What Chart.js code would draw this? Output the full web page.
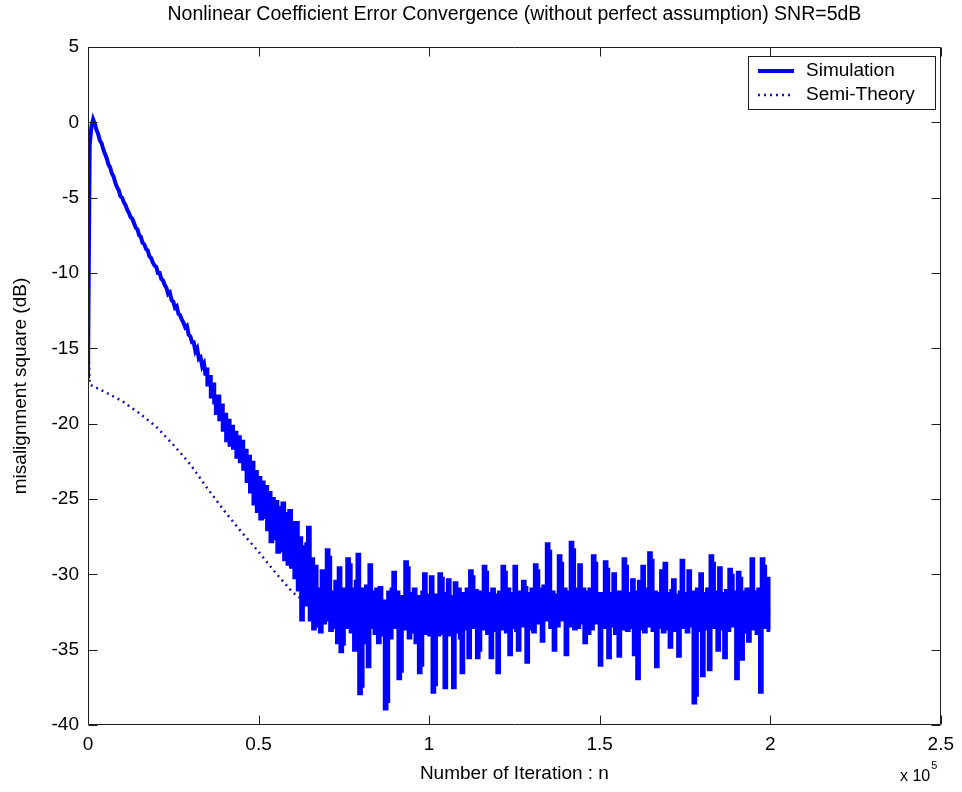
<!DOCTYPE html>
<html>
<head>
<meta charset="utf-8">
<script src="https://cdn.jsdelivr.net/npm/chart.js@4.4.1/dist/chart.umd.min.js"></script>
<style>
  html, body { margin: 0; padding: 0; background: #fff; }
  canvas { display: block; }
</style>
</head>
<body>
<canvas id="graph" width="962" height="792"></canvas>
<script>
const titleText = "Nonlinear Coefficient Error Convergence (without perfect assumption) SNR=5dB";
const xLabel = "Number of Iteration : n";
const yLabel = "misalignment square (dB)";
const seriesNames = ["Simulation", "Semi-Theory"];

// simulation, one value every 500 iterations
const simStep = 500;
const simRise = [ // 0 .. 34500
  -17.0, -1.5, -0.3, 0.2, -0.1, -0.5, -0.8, -1.2, -1.4, -1.8,
  -2.1, -2.4, -2.8, -3.0, -3.4, -3.6, -4.0, -4.3, -4.5, -4.9,
  -5.0, -5.3, -5.5, -5.8, -6.0, -6.3, -6.4, -6.7, -7.0, -7.1,
  -7.5, -7.6, -8.0, -8.1, -8.4, -8.5, -8.9, -9.0, -9.3, -9.5,
  -9.6, -10.0, -10.0, -10.4, -10.5, -10.8, -11.0, -11.4, -11.3, -11.8,
  -11.9, -12.3, -12.2, -12.7, -12.8, -13.1, -13.3, -13.6, -13.5, -14.1,
  -14.2, -14.6, -14.6, -15.2, -15.0, -15.7, -15.6, -16.2, -16.0, -16.8
];
const simKnee = [ // 35000 .. 64500
  -16.4, -17.4, -16.9, -18.2, -17.4, -18.6, -19.3, -18.2, -19.7, -18.8,
  -20.4, -19.4, -21.1, -19.8, -21.4, -20.2, -21.6, -20.6, -22.2, -20.9,
  -22.5, -21.2, -23.0, -21.8, -23.8, -22.2, -24.5, -22.6, -25.3, -23.2,
  -25.8, -23.6, -26.3, -23.9, -26.2, -24.2, -27.0, -24.6, -27.8, -25.0,
  -27.6, -25.2, -28.5, -25.6, -28.4, -25.3, -29.0, -26.0, -29.3, -25.8,
  -29.5, -26.6, -30.2, -26.6, -31.0, -27.6, -33.0, -28.2, -32.0, -28.0
];
const simFloor = [ // 65000 .. 200000
  -26.9, -33.0, -29.0, -33.6, -29.5, -33.4, -31.0, -33.8, -29.8, -33.2,
  -33.0, -28.4, -28.9, -33.7, -31.2, -33.5, -30.5, -34.5, -29.6, -35.1,
  -34.6, -31.0, -33.5, -29.0, -29.4, -33.8, -31.0, -35.0, -30.5, -28.7,
  -37.9, -37.4, -31.0, -34.5, -30.8, -36.1, -29.4, -33.5, -31.2, -33.9,
  -31.0, -34.5, -30.9, -34.0, -31.8, -38.9, -38.4, -31.2, -34.2, -31.0,
  -29.9, -33.5, -31.2, -36.9, -36.4, -31.5, -33.6, -29.2, -29.6, -34.2,
  -31.3, -33.8, -31.0, -34.5, -31.5, -36.5, -36.0, -31.2, -30.0, -33.9,
  -31.4, -34.0, -30.2, -37.8, -37.3, -31.4, -34.0, -30.0, -30.3, -33.9,
  -37.5, -31.3, -30.4, -34.0, -31.5, -37.5, -30.6, -33.8, -31.0, -34.2,
  -36.5, -31.3, -33.6, -31.0, -35.5, -29.8, -30.2, -33.5, -31.1, -35.5,
  -35.0, -31.2, -33.6, -29.5, -29.9, -33.9, -31.3, -35.5, -31.0, -33.7,
  -31.4, -36.5, -31.2, -33.6, -29.5, -29.9, -33.8, -31.0, -35.3, -31.3,
  -33.5, -29.5, -33.7, -35.0, -31.2, -33.4, -30.5, -30.9, -35.8, -31.3,
  -33.6, -31.0, -33.8, -29.4, -29.8, -33.2, -31.0, -34.4, -30.8, -33.0,
  -28.0, -28.5, -33.5, -31.2, -35.0, -31.4, -33.4, -28.8, -29.3, -33.0,
  -31.0, -35.3, -31.2, -33.4, -27.9, -28.4, -33.6, -31.0, -33.5, -29.4,
  -33.2, -31.0, -34.5, -31.2, -33.9, -31.0, -33.6, -28.8, -29.3, -33.2,
  -31.3, -36.0, -31.3, -33.5, -29.2, -29.7, -35.5, -31.3, -33.4, -30.0,
  -33.9, -31.2, -35.4, -31.2, -33.6, -29.0, -29.5, -33.7, -31.3, -33.5,
  -30.4, -35.3, -31.2, -36.9, -30.5, -33.6, -29.5, -33.8, -31.0, -33.4,
  -28.6, -29.1, -33.7, -31.2, -36.1, -31.3, -33.5, -29.8, -33.8, -29.3,
  -33.6, -31.3, -34.8, -31.1, -30.4, -33.7, -31.4, -35.4, -31.2, -29.1,
  -33.5, -31.3, -33.8, -29.8, -33.4, -31.2, -38.5, -38.0, -31.0, -33.7,
  -30.0, -36.7, -31.3, -33.6, -31.0, -36.3, -28.8, -29.3, -33.5, -31.2,
  -35.0, -29.6, -33.6, -31.3, -35.5, -31.1, -33.7, -29.7, -30.1, -33.4,
  -31.2, -36.9, -29.9, -30.3, -35.6, -31.2, -33.8, -31.0, -34.4, -31.2,
  -29.0, -33.6, -31.2, -33.9, -31.0, -37.8, -29.0, -29.5, -33.5, -30.3,
  -33.7
];

// semi-theory
const semiIter = [0, 500, 5000, 10000, 15000, 20000, 25000, 30000, 35000, 40000, 45000,
  50000, 55000, 60000, 65000, 70000, 80000, 100000, 150000, 200000];
const semiValues = [-13.5, -17.4, -17.9, -18.5, -19.3, -20.2, -21.4, -22.7, -24.3, -25.8, -27.2,
  -28.5, -29.9, -31.2, -32.0, -32.4, -32.6, -32.6, -32.6, -32.6];

const fontFamily = "'Liberation Sans', Arial, sans-serif";

// smooth descent, then the noisy part drawn stepped (blocky like the matlab plot)
const risePoints = simRise.map((v, i) => ({x: i * simStep, y: v}));
const tailStart = (simRise.length - 1) * simStep;
const tailPoints = [simRise[simRise.length - 1]].concat(simKnee, simFloor)
    .map((v, i) => ({x: tailStart + i * simStep, y: v}));
const semiPoints = semiIter.map((n, i) => ({x: n, y: semiValues[i]}));

// box, inward ticks, title, legend and the x10^5 factor, matlab style
const frame = {
    id: "frame",
    afterDraw(chart) {
        const ctx = chart.ctx;
        const a = chart.chartArea;
        const xs = chart.scales.x, ys = chart.scales.y;
        const L = Math.round(a.left) + 0.5, R = Math.round(a.right) - 0.5;
        const T = Math.round(a.top) + 0.5, B = Math.round(a.bottom) - 0.5;
        ctx.save();
        ctx.strokeStyle = "#1e1e1e";
        ctx.lineWidth = 1;
        ctx.beginPath();
        ctx.rect(L, T, R - L, B - T);
        xs.ticks.forEach(t => {
            const p = Math.round(xs.getPixelForValue(t.value)) + 0.5;
            ctx.moveTo(p, B); ctx.lineTo(p, B - 9);
            ctx.moveTo(p, T); ctx.lineTo(p, T + 9);
        });
        ys.ticks.forEach(t => {
            const p = Math.round(ys.getPixelForValue(t.value)) + 0.5;
            ctx.moveTo(L, p); ctx.lineTo(L + 9, p);
            ctx.moveTo(R, p); ctx.lineTo(R - 9, p);
        });
        ctx.stroke();

        ctx.fillStyle = "#000";
        ctx.font = "19.5px " + fontFamily;
        ctx.textAlign = "center";
        ctx.textBaseline = "middle";
        ctx.fillText(titleText, (a.left + a.right) / 2, 15);

        ctx.font = "16px " + fontFamily;
        ctx.textAlign = "left";
        ctx.fillText("x 10", 900, 777);
        const w = ctx.measureText("x 10").width;
        ctx.font = "11px " + fontFamily;
        ctx.fillText("5", 900 + w + 1, 766);

        // legend
        ctx.fillStyle = "#fff";
        ctx.fillRect(748.5, 56.5, 187, 53);
        ctx.strokeStyle = "#1e1e1e";
        ctx.lineWidth = 1;
        ctx.strokeRect(748.5, 56.5, 187, 53);
        chart.data.datasets.filter(ds => ds.label).forEach((ds, i) => {
            const yy = 71 + i * 24;
            ctx.strokeStyle = ds.borderColor;
            ctx.lineWidth = ds.borderWidth;
            ctx.setLineDash(ds.borderDash || []);
            ctx.beginPath();
            ctx.moveTo(758, yy); ctx.lineTo(794, yy);
            ctx.stroke();
            ctx.setLineDash([]);
            ctx.fillStyle = "#000";
            ctx.font = "19px " + fontFamily;
            ctx.textAlign = "left";
            ctx.fillText(ds.label, 806, yy);
        });
        ctx.restore();
    }
};

new Chart("graph", {
    type: "line",
    data: {
        datasets: [{
            label: seriesNames[0],
            data: risePoints,
            borderColor: "#0000ff",
            borderWidth: 4,
            pointRadius: 0,
            tension: 0,
            fill: false
        }, {
            label: "",
            data: tailPoints,
            borderColor: "#0000ff",
            borderWidth: 4,
            stepped: "after",
            pointRadius: 0,
            fill: false
        }, {
            label: seriesNames[1],
            data: semiPoints,
            borderColor: "#1515b0",
            borderWidth: 2.5,
            borderDash: [2, 4],
            pointRadius: 0,
            tension: 0,
            fill: false
        }]
    },
    options: {
        responsive: false,
        animation: false,
        events: [],
        layout: {padding: {top: 47, right: 19, left: 0, bottom: 0}},
        plugins: {
            legend: {display: false},
            tooltip: {enabled: false}
        },
        scales: {
            x: {
                type: "linear",
                min: 0,
                max: 250000,
                afterFit: s => { s.height = 67; },
                grid: {display: false, drawTicks: false},
                border: {display: false},
                ticks: {
                    stepSize: 50000,
                    autoSkip: false,
                    maxRotation: 0,
                    padding: 8,
                    color: "#000",
                    font: {family: fontFamily, size: 19},
                    callback: v => v / 1e5
                },
                title: {
                    display: true,
                    text: xLabel,
                    color: "#000",
                    font: {family: fontFamily, size: 19},
                    padding: {top: 0, bottom: 7}
                }
            },
            y: {
                min: -40,
                max: 5,
                afterFit: s => { s.width = 88; },
                grid: {display: false, drawTicks: false},
                border: {display: false},
                ticks: {
                    stepSize: 5,
                    padding: 9,
                    color: "#000",
                    font: {family: fontFamily, size: 19}
                },
                title: {
                    display: true,
                    text: yLabel,
                    color: "#000",
                    font: {family: fontFamily, size: 19},
                    padding: {top: 9, bottom: 0}
                }
            }
        }
    },
    plugins: [frame]
});
</script>
</body>
</html>
